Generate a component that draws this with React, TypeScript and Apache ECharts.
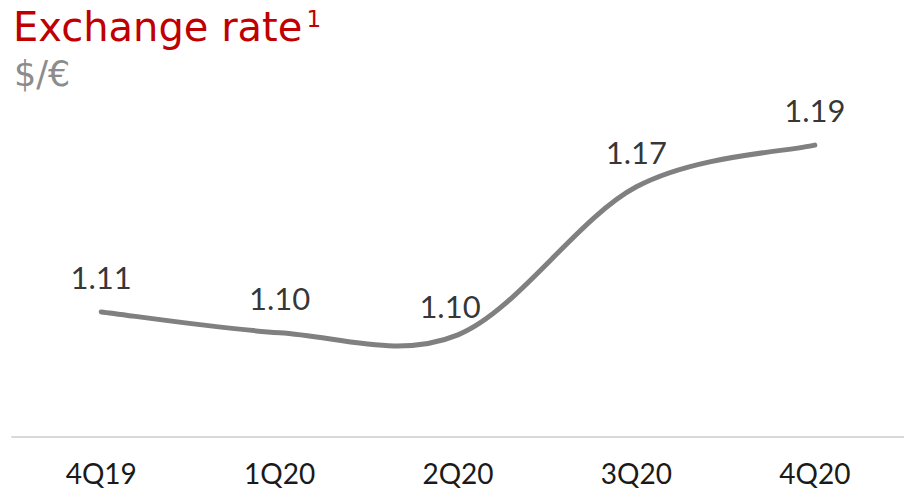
import React, { useEffect, useRef } from "react";
import * as echarts from "echarts";

const categories = ["4Q19", "1Q20", "2Q20", "3Q20", "4Q20"];
const rates = [1.11, 1.1, 1.099, 1.17, 1.19];
const FONT = "Lato";
const TITLE_FONT = "DejaVu Sans";

export default function App() {
  const ref = useRef<HTMLDivElement>(null);
  useEffect(() => {
    document.body.style.margin = "0";
    const chart = echarts.init(ref.current!, null, { renderer: "svg" });
    chart.setOption({
      animation: false,
      backgroundColor: "#ffffff",
      textStyle: { fontFamily: FONT },
      graphic: [
        {
          type: "text",
          left: 13,
          top: 7,
          style: {
            text: "Exchange rate{s|1}",
            fontSize: 40,
            fill: "#C00000",
            fontFamily: TITLE_FONT,
            rich: {
              s: { fontSize: 23, verticalAlign: "top", fill: "#C00000", fontFamily: TITLE_FONT, padding: [0, 0, 15, 4] },
            },
          },
        },
        {
          type: "text",
          left: 14,
          top: 56,
          style: { text: "$/€", fontSize: 35, fill: "#8C8C8C", fontFamily: TITLE_FONT },
        },
      ],
      grid: { left: 12, width: 902, top: 20, bottom: 55, containLabel: false },
      xAxis: {
        type: "category",
        data: categories,
        boundaryGap: true,
        axisLine: { show: true, lineStyle: { color: "#D9D9D9", width: 2 } },
        axisTick: { show: false },
        axisLabel: { color: "#1a1a1a", fontSize: 28, margin: 22, fontFamily: FONT },
      },
      yAxis: {
        type: "value",
        min: 1.05,
        max: 1.25,
        show: false,
        splitLine: { show: false },
      },
      series: [
        {
          type: "custom",
          data: rates.map((v, i) => [i, v]),
          silent: true,
          renderItem: (params: any, api: any) => {
            if (params.dataIndex !== 0) return null;
            const pts = rates.map((v, i) => api.coord([i, v]));
            const n = pts.length;
            const tan = pts.map((p: number[], i: number) => {
              const a = pts[Math.max(0, i - 1)];
              const b = pts[Math.min(n - 1, i + 1)];
              return [(b[0] - a[0]) / 2, (b[1] - a[1]) / 2];
            });
            let d = `M${pts[0][0]},${pts[0][1]}`;
            for (let i = 0; i < n - 1; i++) {
              const p0 = pts[i];
              const p1 = pts[i + 1];
              const c1 = [p0[0] + tan[i][0] / 3, p0[1] + tan[i][1] / 3];
              const c2 = [p1[0] - tan[i + 1][0] / 3, p1[1] - tan[i + 1][1] / 3];
              d += ` C${c1[0]},${c1[1]} ${c2[0]},${c2[1]} ${p1[0]},${p1[1]}`;
            }
            return {
              type: "path",
              shape: { pathData: d },
              style: { stroke: "#808080", lineWidth: 5, fill: "none", lineCap: "round" },
            };
          },
        },
        {
          type: "scatter",
          data: rates.map((v, i) =>
            i === 2 ? { value: [i, v], label: { offset: [-8, 6] } } : { value: [i, v] }
          ),
          symbol: "circle",
          symbolSize: 1,
          itemStyle: { color: "transparent" },
          silent: true,
          label: {
            show: true,
            position: "top",
            distance: 19,
            color: "#000000",
            fontSize: 31,
            fontFamily: FONT,
            formatter: (p: any) => Number(p.value[1]).toFixed(2),
          },
        },
      ],
    });
    return () => chart.dispose();
  }, []);
  return <div ref={ref} style={{ width: 904, height: 492 }} />;
}
